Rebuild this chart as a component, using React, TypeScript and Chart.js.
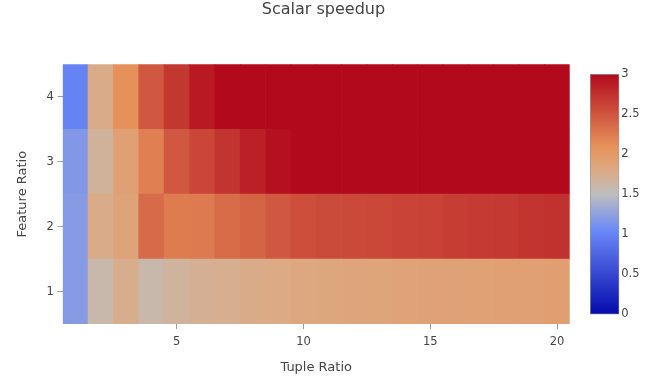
import React, { useEffect, useRef } from 'react';
import { Chart, registerables } from 'chart.js';

Chart.register(...registerables);

// ---- data ----
const tupleRatios = ['1', '2', '3', '4', '5', '6', '7', '8', '9', '10', '11', '12', '13', '14', '15', '16', '17', '18', '19', '20'];
const featureRatios = [1, 2, 3, 4];

const speedupFeature1 = [1.2, 1.6, 1.76, 1.6, 1.67, 1.72, 1.74, 1.78, 1.8, 1.83, 1.84, 1.86, 1.87, 1.89, 1.9, 1.9, 1.91, 1.92, 1.92, 1.94];
const speedupFeature2 = [1.2, 1.78, 1.88, 2.36, 2.24, 2.25, 2.35, 2.4, 2.48, 2.55, 2.57, 2.58, 2.59, 2.61, 2.62, 2.66, 2.67, 2.68, 2.72, 2.74];
const speedupFeature3 = [1.18, 1.68, 1.92, 2.21, 2.48, 2.6, 2.72, 2.85, 2.96, 3, 3, 3, 3, 3, 3, 3, 3, 3, 3, 3];
const speedupFeature4 = [1.0, 1.78, 2.1, 2.48, 2.7, 2.9, 3, 3, 3, 3, 3, 3, 3, 3, 3, 3, 3, 3, 3, 3];

const colorbarTicks = [0, 0.5, 1, 1.5, 2, 2.5, 3];
const zMin = 0;
const zMax = 3;

// plotly RdBu colorscale
const colorStops: [number, number[]][] = [
  [0, [5, 10, 172]],
  [0.35, [106, 137, 247]],
  [0.5, [190, 190, 190]],
  [0.6, [220, 170, 132]],
  [0.7, [230, 145, 90]],
  [1, [178, 10, 28]],
];

const FONT = 'DejaVu Sans';
const TEXT = '#444';

function colorFor(v: number): string {
  let t = (v - zMin) / (zMax - zMin);
  t = Math.max(0, Math.min(1, t));
  for (let i = 1; i < colorStops.length; i++) {
    const [t1, c1] = colorStops[i];
    const [t0, c0] = colorStops[i - 1];
    if (t <= t1) {
      const f = (t - t0) / (t1 - t0);
      const c = c0.map((a, k) => Math.round(a + (c1[k] - a) * f));
      return `rgb(${c[0]},${c[1]},${c[2]})`;
    }
  }
  const c = colorStops[colorStops.length - 1][1];
  return `rgb(${c[0]},${c[1]},${c[2]})`;
}

export default function App() {
  const mainRef = useRef<HTMLCanvasElement>(null);
  const barRef = useRef<HTMLCanvasElement>(null);

  useEffect(() => {
    const rows = [speedupFeature1, speedupFeature2, speedupFeature3, speedupFeature4];
    const main = new Chart(mainRef.current!, {
      type: 'bar',
      data: {
        labels: tupleRatios,
        datasets: featureRatios.map((f, i) => ({
          label: 'Feature ' + f,
          data: tupleRatios.map(() => [f - 0.5, f + 0.5]),
          backgroundColor: rows[i].map(colorFor),
          borderWidth: 0,
          barPercentage: 1,
          categoryPercentage: 1,
          grouped: false,
        })) as any,
      },
      options: {
        animation: false,
        responsive: false,
        maintainAspectRatio: false,
        layout: { padding: { left: 0, right: 20, top: 0, bottom: 0 } },
        plugins: {
          legend: { display: false },
          tooltip: { enabled: false },
          title: {
            display: true,
            text: 'Scalar speedup',
            color: TEXT,
            font: { family: FONT, size: 16, weight: 'normal' },
            padding: { top: 0.7, bottom: 44.4 },
          },
        },
        scales: {
          x: {
            type: 'category',
            offset: true,
            grid: { offset: false, drawOnChartArea: false, tickLength: 5, color: '#999' },
            border: { display: false },
            ticks: {
              autoSkip: false,
              maxRotation: 0,
              color: TEXT,
              padding: 6,
              font: { family: FONT, size: 11.5 },
              callback: function (this: any, value: any) {
                const l = this.getLabelForValue(value);
                return Number(l) % 5 === 0 ? l : null;
              },
            },
            title: {
              display: true,
              text: 'Tuple Ratio',
              color: TEXT,
              font: { family: FONT, size: 13 },
              padding: { top: 0, bottom: 7.2 },
            },
            afterFit: (s: any) => { s.height = 59; },
          },
          y: {
            type: 'linear',
            min: 0.5,
            max: 4.5,
            afterBuildTicks: (s: any) => { s.ticks = featureRatios.map((v) => ({ value: v })); },
            grid: { drawOnChartArea: false, tickLength: 5, color: '#999' },
            border: { display: false },
            ticks: {
              color: TEXT,
              padding: 4,
              font: { family: FONT, size: 11.5 },
            },
            title: {
              display: true,
              text: 'Feature Ratio',
              color: TEXT,
              font: { family: FONT, size: 13 },
              padding: { top: 14.7, bottom: 0 },
            },
            afterFit: (s: any) => { s.width = 62.7; },
          },
          rpad: {
            type: 'linear',
            position: 'right',
            display: true,
            grid: { display: false, drawTicks: false },
            border: { display: false },
            ticks: { display: false },
            afterFit: (s: any) => { s.width = 77.3; },
          },
        },
      } as any,
    });

    const bar = new Chart(barRef.current!, {
      type: 'bar',
      data: {
        labels: ['speedup'],
        datasets: [
          {
            data: [[zMin, zMax]] as any,
            backgroundColor: (c: any) => {
              const ch = c.chart;
              if (!ch.chartArea) return '#888';
              const ys = ch.scales.y;
              const g = ch.ctx.createLinearGradient(0, ys.getPixelForValue(zMin), 0, ys.getPixelForValue(zMax));
              colorStops.forEach(([t, col]) => g.addColorStop(t, `rgb(${col[0]},${col[1]},${col[2]})`));
              return g;
            },
            borderColor: '#999',
            borderWidth: 1,
            borderSkipped: false,
            barPercentage: 1,
            categoryPercentage: 1,
          },
        ],
      },
      options: {
        animation: false,
        responsive: false,
        maintainAspectRatio: false,
        layout: { padding: { left: 10, right: 0, top: 14, bottom: 15.5 } },
        plugins: { legend: { display: false }, tooltip: { enabled: false } },
        scales: {
          x: { display: false },
          y: {
            position: 'right',
            min: zMin,
            max: zMax,
            afterBuildTicks: (s: any) => { s.ticks = colorbarTicks.map((v) => ({ value: v })); },
            grid: { display: false, drawTicks: false },
            border: { display: false },
            ticks: {
              color: TEXT,
              padding: 2,
              font: { family: FONT, size: 11.5 },
              callback: (v: any) => String(v),
            },
            afterFit: (s: any) => { s.width = 40.7; },
          },
        },
      } as any,
    });

    return () => {
      main.destroy();
      bar.destroy();
    };
  }, []);

  return (
    <div style={{ position: 'absolute', left: 0, top: 0, width: 667, height: 383, background: '#fff' }}>
      <canvas ref={mainRef} width={667} height={383} style={{ position: 'absolute', left: 0, top: 0 }} />
      <canvas ref={barRef} width={80} height={270} style={{ position: 'absolute', left: 580, top: 60 }} />
    </div>
  );
}
